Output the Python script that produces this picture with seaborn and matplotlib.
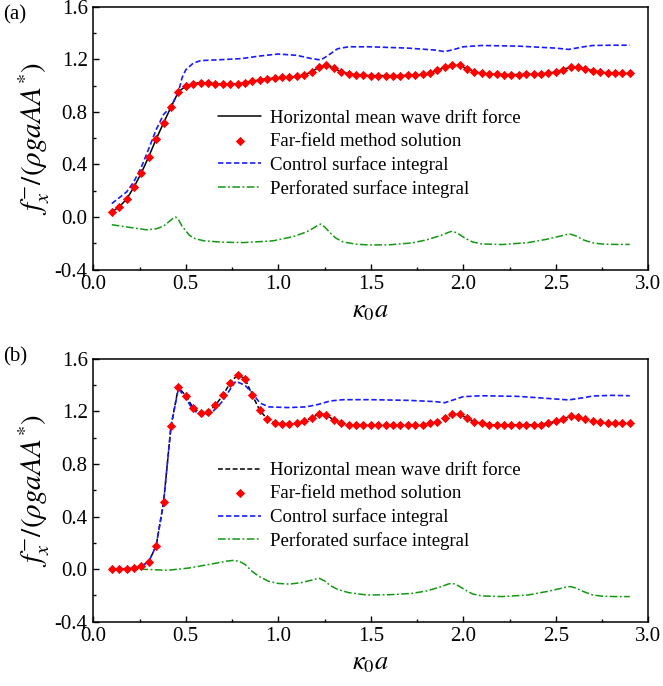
import numpy as np
import pandas as pd
import matplotlib
matplotlib.use("Agg")
import matplotlib.pyplot as plt
import seaborn as sns
from matplotlib.ticker import MultipleLocator, FormatStrFormatter

# ---- sampled wave numbers (kappa_0 a) for the far-field solution ----
ka_pts = [0.10, 0.14, 0.18, 0.22, 0.26, 0.30, 0.34, 0.38, 0.42, 0.46,
          0.50, 0.54, 0.58, 0.62, 0.66, 0.70, 0.74, 0.78, 0.82, 0.86,
          0.90, 0.94, 0.98, 1.02, 1.06, 1.10, 1.14, 1.18, 1.22, 1.26,
          1.30, 1.34, 1.38, 1.42, 1.46, 1.50, 1.54, 1.58, 1.62, 1.66,
          1.70, 1.74, 1.78, 1.82, 1.86, 1.90, 1.94, 1.98, 2.02, 2.06,
          2.10, 2.14, 2.18, 2.22, 2.26, 2.30, 2.34, 2.38, 2.42, 2.46,
          2.50, 2.54, 2.58, 2.62, 2.66, 2.70, 2.74, 2.78, 2.82, 2.86, 2.90]

# ---- panel (a) ----
far_a = [0.038, 0.077, 0.135, 0.228, 0.335, 0.460, 0.593, 0.716, 0.836, 0.951,
         0.997, 1.015, 1.022, 1.020, 1.015, 1.010, 1.010, 1.014, 1.022, 1.032,
         1.044, 1.052, 1.057, 1.062, 1.065, 1.070, 1.080, 1.105, 1.140, 1.158,
         1.130, 1.105, 1.090, 1.083, 1.078, 1.076, 1.075, 1.075, 1.075, 1.076,
         1.078, 1.080, 1.085, 1.095, 1.115, 1.138, 1.155, 1.153, 1.128, 1.105,
         1.095, 1.088, 1.085, 1.084, 1.084, 1.084, 1.085, 1.087, 1.090, 1.095,
         1.103, 1.122, 1.140, 1.140, 1.127, 1.113, 1.103, 1.097, 1.093, 1.092, 1.092]
drift_a = far_a

ka_ctrl_a = [0.10, 0.14, 0.18, 0.22, 0.26, 0.30, 0.34, 0.38, 0.42, 0.46, 0.48,
             0.50, 0.54, 0.58, 0.66, 0.80, 0.90, 1.00, 1.10, 1.18, 1.23, 1.27,
             1.32, 1.38, 1.50, 1.70, 1.85, 1.90, 1.95, 2.00, 2.10, 2.30, 2.50,
             2.57, 2.65, 2.70, 2.80, 2.90]
ctrl_a = [0.102, 0.146, 0.190, 0.270, 0.380, 0.520, 0.665, 0.780, 0.840, 0.950, 1.060,
          1.120, 1.170, 1.190, 1.195, 1.205, 1.225, 1.240, 1.230, 1.205, 1.195, 1.230,
          1.280, 1.295, 1.295, 1.285, 1.270, 1.258, 1.275, 1.295, 1.305, 1.300, 1.285,
          1.275, 1.295, 1.305, 1.307, 1.307]

ka_perf_a = [0.10, 0.20, 0.29, 0.34, 0.38, 0.41, 0.43, 0.445, 0.46, 0.48, 0.52, 0.55,
             0.60, 0.70, 0.81, 0.97, 1.08, 1.15, 1.19, 1.215, 1.23, 1.25, 1.28, 1.31,
             1.35, 1.42, 1.49, 1.60, 1.72, 1.80, 1.88, 1.92, 1.94, 1.97, 2.01, 2.05,
             2.10, 2.21, 2.35, 2.45, 2.52, 2.56, 2.58, 2.61, 2.65, 2.70, 2.75, 2.82, 2.90]
perf_a = [-0.059, -0.080, -0.098, -0.090, -0.070, -0.035, -0.012, 0.000, -0.020, -0.070, -0.140, -0.165,
          -0.182, -0.192, -0.195, -0.182, -0.150, -0.115, -0.085, -0.062, -0.054, -0.075, -0.120, -0.160,
          -0.190, -0.207, -0.213, -0.212, -0.198, -0.175, -0.140, -0.117, -0.108, -0.125, -0.162, -0.190,
          -0.205, -0.210, -0.195, -0.170, -0.147, -0.133, -0.131, -0.145, -0.175, -0.197, -0.206, -0.209, -0.209]

# ---- panel (b) ----
far_b = [0.000, 0.000, 0.000, 0.005, 0.020, 0.056, 0.178, 0.508, 1.087, 1.384,
         1.320, 1.227, 1.189, 1.196, 1.247, 1.323, 1.417, 1.480, 1.450, 1.323,
         1.209, 1.143, 1.112, 1.105, 1.105, 1.112, 1.125, 1.150, 1.183, 1.176,
         1.133, 1.112, 1.100, 1.095, 1.095, 1.095, 1.095, 1.095, 1.095, 1.095,
         1.095, 1.095, 1.100, 1.110, 1.122, 1.150, 1.178, 1.178, 1.150, 1.122,
         1.110, 1.100, 1.098, 1.098, 1.098, 1.098, 1.098, 1.098, 1.098, 1.110,
         1.125, 1.140, 1.166, 1.160, 1.145, 1.125, 1.117, 1.110, 1.110, 1.110, 1.110]
drift_b = far_b

ka_ctrl_b = [0.10, 0.22, 0.26, 0.30, 0.34, 0.38, 0.42, 0.46, 0.50, 0.54, 0.59,
             0.64, 0.70, 0.74, 0.77, 0.82, 0.86, 0.90, 0.95, 1.05, 1.15, 1.22,
             1.28, 1.35, 1.50, 1.70, 1.85, 1.90, 1.95, 2.00, 2.10, 2.30, 2.50,
             2.57, 2.65, 2.70, 2.80, 2.90]
ctrl_b = [0.000, 0.005, 0.020, 0.056, 0.178, 0.508, 1.087, 1.375, 1.300, 1.210, 1.168,
          1.190, 1.280, 1.370, 1.430, 1.400, 1.340, 1.265, 1.235, 1.230, 1.235, 1.255,
          1.280, 1.290, 1.290, 1.285, 1.275, 1.267, 1.290, 1.313, 1.320, 1.315, 1.295,
          1.288, 1.305, 1.318, 1.323, 1.320]

ka_perf_b = [0.10, 0.235, 0.32, 0.40, 0.52, 0.67, 0.72, 0.76, 0.79, 0.82, 0.86,
             0.90, 0.95, 1.00, 1.06, 1.12, 1.18, 1.22, 1.25, 1.28, 1.32, 1.38,
             1.48, 1.60, 1.72, 1.80, 1.88, 1.92, 1.94, 1.97, 2.01, 2.05, 2.10,
             2.21, 2.35, 2.45, 2.52, 2.56, 2.58, 2.61, 2.65, 2.70, 2.75, 2.82, 2.90]
perf_b = [0.000, 0.000, -0.005, -0.010, 0.008, 0.046, 0.060, 0.066, 0.058, 0.035, -0.020,
          -0.060, -0.095, -0.110, -0.115, -0.105, -0.085, -0.070, -0.090, -0.125, -0.155, -0.180,
          -0.198, -0.196, -0.186, -0.168, -0.135, -0.114, -0.108, -0.125, -0.159, -0.190, -0.205,
          -0.210, -0.198, -0.172, -0.150, -0.136, -0.134, -0.146, -0.172, -0.198, -0.207, -0.210, -0.210]

labels = ["Horizontal mean wave drift force", "Far-field method solution",
          "Control surface integral", "Perforated surface integral"]

sns.set_theme(style="ticks")
plt.rcParams.update({
    "font.family": ["Liberation Serif", "DejaVu Serif"],
    "mathtext.fontset": "stix",
    "axes.unicode_minus": False,
    "axes.linewidth": 1.1,
    "axes.edgecolor": "black",
    "xtick.direction": "in",
    "ytick.direction": "in",
    "xtick.color": "black",
    "ytick.color": "black",
    "text.color": "black",
    "axes.labelcolor": "black",
})

fig = plt.figure(figsize=(6.63, 6.86), dpi=100)
ax_a = fig.add_axes([0.1407, 0.6071, 0.8371, 0.3831])
ax_b = fig.add_axes([0.1407, 0.0940, 0.8371, 0.3827])


def draw_panel(ax, drift, far, ka_c, ctrl, ka_p, perf, drift_style):
    sns.lineplot(x=ka_pts, y=drift, ax=ax, color="black", lw=1.1,
                 linestyle=drift_style, sort=False, estimator=None,
                 label=labels[0], zorder=2)
    sns.scatterplot(x=ka_pts, y=far, ax=ax, marker="D", s=17, color="#ff0000",
                    edgecolor="#ff0000", linewidth=0.6, label=labels[1], zorder=4)
    sns.lineplot(x=ka_c, y=ctrl, ax=ax, color="#1a1aff", lw=1.2,
                 linestyle=(0, (3.2, 1.6)), sort=False, estimator=None,
                 label=labels[2], zorder=3)
    sns.lineplot(x=ka_p, y=perf, ax=ax, color="#119911", lw=1.1,
                 linestyle=(0, (5, 1.6, 1.2, 1.6)), sort=False, estimator=None,
                 label=labels[3], zorder=3)

    ax.set_xlim(0.0, 3.0)
    ax.set_ylim(-0.4, 1.6)
    ax.xaxis.set_major_locator(MultipleLocator(0.5))
    ax.xaxis.set_minor_locator(MultipleLocator(0.25))
    ax.yaxis.set_major_locator(MultipleLocator(0.4))
    ax.yaxis.set_minor_locator(MultipleLocator(0.2))
    ax.xaxis.set_major_formatter(FormatStrFormatter("%.1f"))
    ax.yaxis.set_major_formatter(FormatStrFormatter("%.1f"))
    ax.tick_params(which="major", length=4.5, width=1.0, labelsize=15, pad=4,
                   top=False, right=False)
    ax.tick_params(which="minor", length=2.5, width=1.0, top=False, right=False)
    for sp in ax.spines.values():
        sp.set_visible(True)
        sp.set_linewidth(1.1)
        sp.set_color("black")

    ax.set_xlabel(r"$\kappa_0 a$", fontsize=19, labelpad=5)
    ax.set_ylabel(r"$f_x^{-}/(\rho g a A A^{*})$", fontsize=21, labelpad=2)

    leg = ax.legend(loc="center left", bbox_to_anchor=(0.225, 0.44),
                    frameon=False, fontsize=13.5, borderpad=0, borderaxespad=0,
                    handlelength=2.3, handletextpad=0.45, labelspacing=0.32,
                    markerscale=1.0)
    return leg


draw_panel(ax_a, drift_a, far_a, ka_ctrl_a, ctrl_a, ka_perf_a, perf_a, "-")
draw_panel(ax_b, drift_b, far_b, ka_ctrl_b, ctrl_b, ka_perf_b, perf_b, (0, (3.2, 1.6)))

fig.text(0.005, 0.978, "(a)", fontsize=15, va="center", ha="left")
fig.text(0.005, 0.480, "(b)", fontsize=15, va="center", ha="left")

fig.savefig("out.png", dpi=100, facecolor="white")
